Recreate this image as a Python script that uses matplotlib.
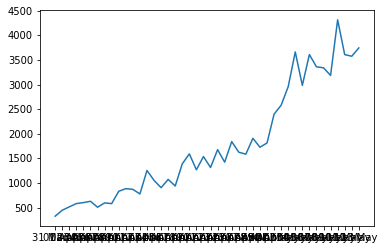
import matplotlib
matplotlib.use("Agg")
import matplotlib.pyplot as plt

# daily labels, 31 March .. 13 May
dates = ["31 March"] + ["%02d April" % d for d in range(1, 31)] + ["%02d May" % d for d in range(1, 14)]

counts = [324, 445, 514, 580, 600, 627, 506, 594, 580, 830,
          884, 870, 776, 1254, 1052, 904, 1072, 938, 1389, 1591,
          1268, 1537, 1314, 1677, 1423, 1840, 1625, 1585, 1908, 1726,
          1813, 2399, 2581, 2958, 3665, 2985, 3611, 3362, 3342, 3187,
          4318, 3611, 3577, 3746]

fig = plt.figure(figsize=(385 / 72, 252 / 72), dpi=72)
ax = fig.add_axes([40 / 385, 26 / 252, 334 / 385, 216 / 252])
ax.plot(dates, counts)

fig.savefig("out.png", dpi=72)
